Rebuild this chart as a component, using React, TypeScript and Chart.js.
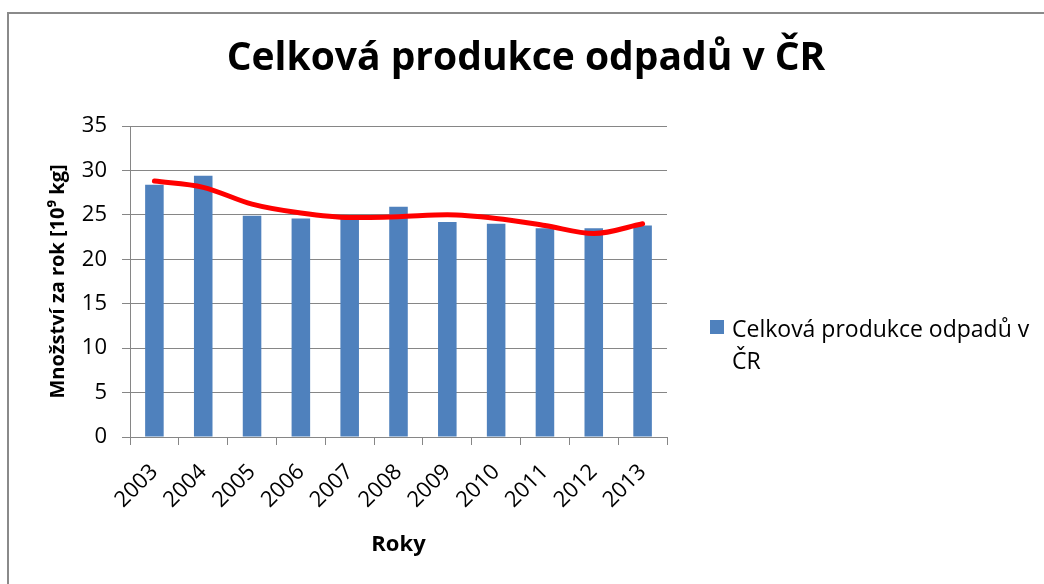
import React, { useEffect, useRef } from "react";
import { Chart, registerables } from "chart.js";

Chart.register(...registerables);

const years = ["2003", "2004", "2005", "2006", "2007", "2008", "2009", "2010", "2011", "2012", "2013"];
const production = [28.4, 29.4, 24.9, 24.6, 24.9, 25.9, 24.2, 24.0, 23.5, 23.5, 23.8];
const trend = [28.8, 28.1, 26.2, 25.2, 24.7, 24.8, 25.0, 24.6, 23.8, 22.9, 24.0];
const yTicks = [0, 5, 10, 15, 20, 25, 30, 35];

const seriesLabel = "Celková produkce odpadů v ČR";
const legendLines = ["Celková produkce odpadů v", "ČR"];
const chartTitle = "Celková produkce odpadů v ČR";
const yTitle = "Množství za rok [10⁹ kg]";
const xTitle = "Roky";

const FONT = "'Open Sans'";
const GRID = "#868686";
const BAR = "#4F81BD";

const framePlugin = {
  id: "frame",
  beforeDraw(chart: any) {
    const ctx = chart.ctx;
    ctx.save();
    ctx.fillStyle = "#ffffff";
    ctx.fillRect(0, 0, chart.width, chart.height);
    ctx.fillStyle = "#8a8a8a";
    ctx.fillRect(7, 12, chart.width, 2);
    ctx.fillRect(7, 12, 2, chart.height);
    ctx.restore();
  },
};

const legendPlugin = {
  id: "customLegend",
  afterDraw(chart: any) {
    const ctx = chart.ctx;
    const ds = chart.data.datasets[0];
    ctx.save();
    ctx.fillStyle = ds.backgroundColor;
    ctx.fillRect(710, 320, 14, 14);
    ctx.fillStyle = "#000000";
    ctx.font = `23px ${FONT}`;
    ctx.textAlign = "left";
    ctx.textBaseline = "alphabetic";
    legendLines.forEach((line, i) => {
      ctx.fillText(line, 732, 337 + i * 31.5);
    });
    ctx.restore();
  },
};

export default function App() {
  const ref = useRef<HTMLCanvasElement>(null);

  useEffect(() => {
    if (!ref.current) return;
    const chart = new Chart(ref.current, {
      type: "bar",
      data: {
        labels: years,
        datasets: [
          {
            type: "bar",
            label: seriesLabel,
            data: production,
            backgroundColor: BAR,
            borderWidth: 0,
            barPercentage: 0.38,
            categoryPercentage: 1,
            yAxisID: "y",
            order: 2,
          },
          {
            type: "line",
            label: "Trend",
            data: trend,
            borderColor: "#FF0000",
            borderWidth: 5,
            borderCapStyle: "round",
            pointRadius: 0,
            cubicInterpolationMode: "monotone",
            fill: false,
            yAxisID: "y",
            order: 1,
          } as any,
        ],
      },
      options: {
        responsive: false,
        animation: false,
        layout: { padding: { left: 8, right: 0, top: 0, bottom: 0 } },
        plugins: {
          legend: { display: false },
          tooltip: { enabled: false },
          title: {
            display: true,
            text: chartTitle,
            color: "#000000",
            font: { family: FONT, size: 39, weight: "bold" },
            padding: { top: 35, bottom: 126 - 35 - 46.8 },
          },
        },
        scales: {
          x: {
            grid: {
              display: true,
              drawOnChartArea: false,
              drawTicks: true,
              tickLength: 8,
              color: GRID,
              offset: true,
            },
            border: { display: true, color: GRID },
            ticks: {
              color: "#000000",
              font: { family: FONT, size: 22 },
              minRotation: 45,
              maxRotation: 45,
              autoSkip: false,
              padding: 14,
            },
            title: {
              display: true,
              text: xTitle,
              color: "#000000",
              font: { family: FONT, size: 22, weight: "bold" },
              padding: { top: 0, bottom: 584 - 545 - 13.2 },
            },
            afterFit(scale: any) {
              scale.height = 147;
            },
          },
          y: {
            position: "left",
            min: 0,
            max: 35,
            afterBuildTicks(scale: any) {
              scale.ticks = yTicks.map((v) => ({ value: v }));
            },
            grid: {
              color: GRID,
              lineWidth: 1,
              drawTicks: true,
              tickLength: 8,
            },
            border: { display: true, color: GRID },
            ticks: {
              color: "#000000",
              font: { family: FONT, size: 22 },
              padding: 15,
            },
            title: {
              display: true,
              text: yTitle,
              color: "#000000",
              font: { family: FONT, size: 20, weight: "bold" },
              padding: { top: 38, bottom: 0 },
            },
            afterFit(scale: any) {
              scale.width = 122;
            },
          },
          legendSpace: {
            type: "linear",
            position: "right",
            display: true,
            grid: { display: false, drawTicks: false },
            border: { display: false },
            ticks: { display: false },
            afterFit(scale: any) {
              scale.width = 377;
            },
          },
        },
      },
      plugins: [framePlugin, legendPlugin],
    });
    return () => chart.destroy();
  }, []);

  return (
    <div style={{ position: "fixed", left: 0, top: 0, width: 1044, height: 584, background: "#fff" }}>
      <canvas ref={ref} width={1044} height={584} style={{ display: "block" }} />
    </div>
  );
}
